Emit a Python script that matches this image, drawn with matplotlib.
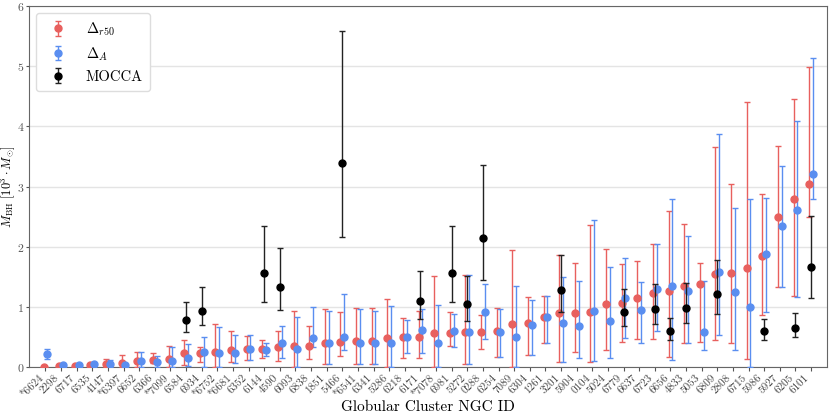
import numpy as np
import matplotlib; matplotlib.use("Agg")
import matplotlib.pyplot as plt

plt.rcParams["font.family"] = "serif"
plt.rcParams["font.serif"] = ["cmr10", "DejaVu Serif"]
plt.rcParams["mathtext.fontset"] = "cm"
plt.rcParams["axes.unicode_minus"] = False
plt.rcParams["axes.formatter.use_mathtext"] = True

# Data (M_BH in 10^3 Msun)
ngc_ids = ["*6624", "2298", "6717", "6535", "4147", "*6397", "6652", "6366", "*7099", "6584",
           "6934", "*6752", "*6681", "6352", "6144", "4590", "6093", "6838", "1851", "5466",
           "*6541", "6341", "5286", "6218", "6171", "*7078", "6981", "5272", "0288", "6254",
           "7089", "6304", "1261", "3201", "5904", "0104", "5024", "6779", "6637", "6723",
           "6656", "4833", "5053", "6809", "2808", "6715", "5986", "5927", "6205", "6101"]

r50_val = [0.0, 0.02, 0.02, 0.03, 0.05, 0.07, 0.10, 0.12, 0.13, 0.23,
           0.23, 0.25, 0.29, 0.30, 0.31, 0.34, 0.35, 0.36, 0.41, 0.42,
           0.43, 0.43, 0.49, 0.50, 0.51, 0.57, 0.57, 0.585, 0.59, 0.61,
           0.72, 0.73, 0.84, 0.90, 0.90, 0.91, 1.05, 1.06, 1.155, 1.24,
           1.26, 1.35, 1.38, 1.54, 1.57, 1.65, 1.84, 2.50, 2.79, 3.05]
r50_lo = [0.0, 0.01, 0.01, 0.02, 0.0, 0.0, 0.01, 0.07, 0.0, 0.04,
          0.09, 0.0, 0.09, 0.12, 0.16, 0.11, 0.0, 0.14, 0.06, 0.19,
          0.06, 0.06, 0.0, 0.15, 0.16, 0.0, 0.36, 0.06, 0.30, 0.17,
          0.0, 0.20, 0.40, 0.09, 0.25, 0.09, 0.28, 0.42, 0.47, 0.47,
          0.17, 0.41, 0.42, 0.46, 0.41, 0.13, 0.86, 1.33, 1.18, 2.50]
r50_hi = [0.01, 0.03, 0.03, 0.05, 0.13, 0.20, 0.26, 0.24, 0.36, 0.45,
          0.34, 0.72, 0.60, 0.52, 0.46, 0.60, 0.93, 0.68, 0.97, 0.91,
          0.99, 0.99, 1.14, 0.82, 0.93, 1.52, 0.91, 1.53, 0.87, 0.98,
          1.95, 1.16, 1.18, 1.86, 1.73, 2.36, 1.96, 1.71, 1.77, 2.04,
          2.60, 2.37, 1.73, 3.66, 3.04, 4.41, 2.88, 3.67, 4.46, 4.98]

A_val = [0.22, 0.03, 0.03, 0.05, 0.05, 0.03, 0.10, 0.08, 0.10, 0.15,
         0.25, 0.24, 0.24, 0.30, 0.29, 0.40, 0.30, 0.49, 0.40, 0.51,
         0.41, 0.40, 0.40, 0.50, 0.62, 0.41, 0.60, 0.585, 0.92, 0.59,
         0.51, 0.70, 0.84, 0.73, 0.68, 0.94, 0.77, 1.155, 0.945, 1.30,
         1.35, 1.27, 0.585, 1.58, 1.25, 1.00, 1.875, 2.345, 2.61, 3.20]
A_lo = [0.14, 0.02, 0.02, 0.03, 0.0, 0.0, 0.0, 0.0, 0.0, 0.02,
        0.0, 0.0, 0.07, 0.12, 0.18, 0.16, 0.0, 0.33, 0.06, 0.28,
        0.06, 0.06, 0.0, 0.24, 0.24, 0.0, 0.33, 0.06, 0.47, 0.17,
        0.0, 0.20, 0.40, 0.08, 0.15, 0.10, 0.16, 0.49, 0.41, 0.60,
        0.12, 0.41, 0.28, 0.54, 0.29, 0.0, 0.92, 1.33, 1.17, 2.80]
A_hi = [0.30, 0.04, 0.04, 0.07, 0.12, 0.06, 0.26, 0.18, 0.33, 0.39,
        0.50, 0.67, 0.53, 0.53, 0.41, 0.68, 0.83, 1.00, 0.94, 1.22,
        0.97, 0.94, 1.02, 0.79, 0.96, 1.04, 0.88, 1.53, 1.39, 0.96,
        1.35, 1.12, 1.18, 1.50, 1.44, 2.44, 1.67, 1.82, 1.41, 2.04,
        2.80, 2.18, 1.44, 3.87, 2.65, 2.79, 2.81, 3.34, 4.08, 5.14]

# MOCCA estimates (index into ngc_ids)
mocca_idx = [9, 10, 14, 15, 19, 24, 26, 27, 28, 33, 37, 39, 40, 41, 43, 46, 48, 49]
mocca_val = [0.785, 0.94, 1.565, 1.34, 3.39, 1.10, 1.56, 1.05, 2.15, 1.28,
             0.92, 0.97, 0.61, 0.99, 1.22, 0.60, 0.66, 1.66]
mocca_lo = [0.59, 0.70, 1.09, 0.95, 2.17, 0.80, 1.09, 0.76, 1.45, 0.91,
            0.685, 0.72, 0.46, 0.73, 0.88, 0.46, 0.51, 1.155]
mocca_hi = [1.09, 1.33, 2.35, 1.985, 5.58, 1.59, 2.34, 1.51, 3.36, 1.87,
            1.30, 1.38, 0.81, 1.40, 1.78, 0.80, 0.90, 2.51]

red = "#e8605e"
blue = "#5a8ef0"

def yerr(v, lo, hi):
    v, lo, hi = np.array(v), np.array(lo), np.array(hi)
    return [v - lo, hi - v]

x = np.arange(len(ngc_ids))
fig = plt.figure(figsize=(8.3, 4.15), dpi=100)
ax = fig.add_axes([0.035, 0.115, 0.961, 0.871])

ax.errorbar(x - 0.12, r50_val, yerr=yerr(r50_val, r50_lo, r50_hi), fmt="o", color=red,
            ms=5, elinewidth=1, capsize=2, capthick=1, ecolor=red, label=r"$\Delta_{r50}$", zorder=3)
ax.errorbar(x + 0.12, A_val, yerr=yerr(A_val, A_lo, A_hi), fmt="o", color=blue,
            ms=5, elinewidth=1, capsize=2, capthick=1, ecolor=blue, label=r"$\Delta_A$", zorder=3)
ax.errorbar(np.array(mocca_idx), mocca_val, yerr=yerr(mocca_val, mocca_lo, mocca_hi), fmt="o",
            color="black", ms=5, elinewidth=1, capsize=2, capthick=1, ecolor="#222222",
            label="MOCCA", zorder=4)

ax.set_xlim(-1.05, 50)
ax.set_ylim(0, 6)
ax.set_xticks(x)
ax.set_xticklabels(ngc_ids, rotation=45, ha="right", fontsize=8, color="#444444")
ax.tick_params(axis="x", length=3, pad=1, color="#555555")
ax.tick_params(axis="y", length=2.5, pad=1, labelsize=8.5, colors="#555555")
ax.set_yticks(range(7))
ax.grid(axis="y", color="#e4e4e4", lw=1)
ax.set_axisbelow(True)
for s in ax.spines.values():
    s.set_color("#666666")
ax.set_xlabel("Globular Cluster NGC ID", fontsize=11, labelpad=1)
ax.set_ylabel(r"$M_{\rm BH}\ [10^3\cdot M_{\odot}]$", fontsize=9)
ax.yaxis.set_label_coords(-0.0145, 0.5)
ax.legend(loc="upper left", fontsize=10.5, framealpha=1, edgecolor="#dddddd",
          borderpad=0.5, handletextpad=0.9)

plt.savefig("out.png", dpi=100)
plt.close()
